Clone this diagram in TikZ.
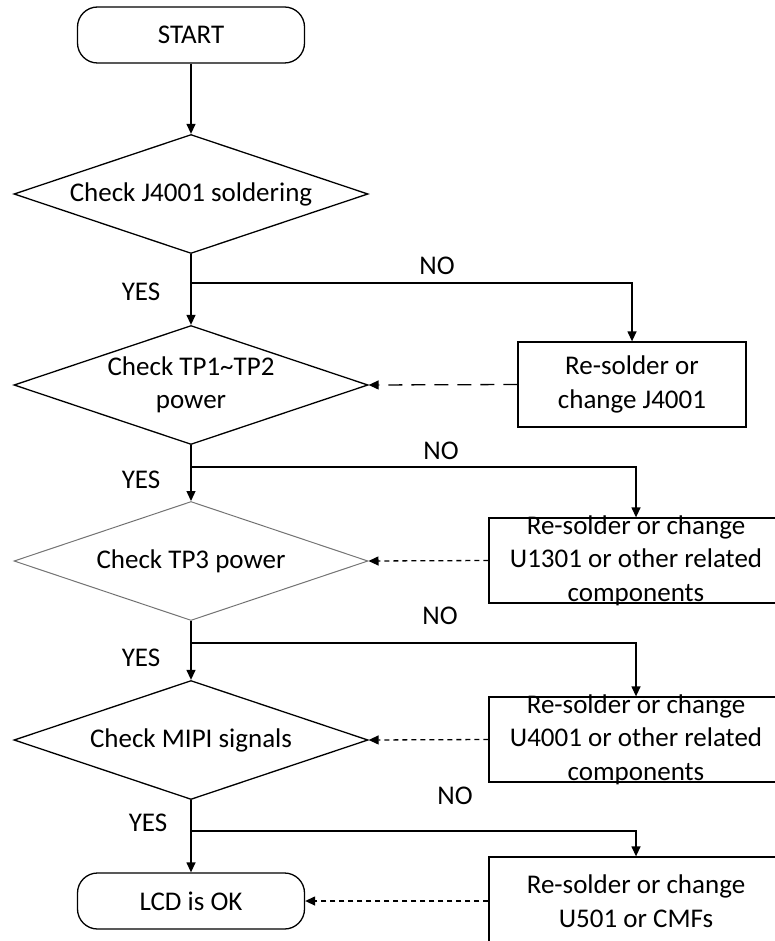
\documentclass[tikz,border=0pt]{standalone}
\usepackage{fontspec}
\setmainfont{Carlito}
\usetikzlibrary{shapes.geometric,arrows.meta}
\begin{document}
\begin{tikzpicture}[x=1pt,y=-1pt,
  line width=1.3pt,
  every node/.style={font=\fontsize{27}{33.5}\selectfont, text=black},
  terminal/.style={draw, rectangle, rounded corners=20pt, minimum width=227pt, minimum height=56pt, inner sep=0pt},
  decision/.style={draw, diamond, minimum width=354pt, minimum height=119pt, inner sep=0pt},
  actionbox/.style={draw, rectangle, inner sep=0pt},
  lbl/.style={align=center, inner sep=0pt},
  flow/.style={-{Triangle[length=10pt,width=9pt]}},
  back/.style={-{Triangle[length=10pt,width=9pt]}, dash pattern=on 5pt off 4pt},
  longback/.style={-{Triangle[length=10pt,width=9pt]}, dash pattern=on 14pt off 9pt},
]
\clip (0,0) rectangle (775,941);

% main column
\node[terminal] (start) at (191,35) {START};
\node[decision] (d1) at (191,194) {};
\node[lbl] (d1t) at (d1) {Check J4001 soldering};
\node[decision] (d2) at (191,385) {};
\node[lbl] (d2t) at (d2) {Check TP1\textasciitilde TP2\\power};
\node[decision, draw=black!55, line width=1pt] (d3) at (191,561) {};
\node[lbl] (d3t) at (d3) {Check TP3 power};
\node[decision] (d4) at (191,740) {};
\node[lbl] (d4t) at (d4) {Check MIPI signals};
\node[terminal] (lcd) at (191,901) {LCD is OK};

% repair boxes
\node[actionbox, minimum width=228pt, minimum height=85pt] (bx1) at (632,384.5) {};
\node[lbl] (bx1t) at (bx1) {Re-solder or\\change J4001};
\node[actionbox, minimum width=294pt, minimum height=85pt] (bx2) at (636,560.5) {};
\node[lbl] (bx2t) at (bx2) {Re-solder or change\\U1301 or other related\\components};
\node[actionbox, minimum width=294pt, minimum height=85pt] (bx3) at (636,739.5) {};
\node[lbl] (bx3t) at (bx3) {Re-solder or change\\U4001 or other related\\components};
\node[actionbox, minimum width=294pt, minimum height=88pt] (bx4) at (636,901) {};
\node[lbl] (bx4t) at (bx4) {Re-solder or change\\U501 or CMFs};

% branch points
\coordinate (b1) at (191,283);
\coordinate (b2) at (191,467);
\coordinate (b3) at (191,643);
\coordinate (b4) at (191,831);

% YES path
\draw[flow] (start.south) -- (d1.north);
\draw[flow] (d1.south) -- (d2.north);
\draw[flow] (d2.south) -- (d3.north);
\draw[flow] (d3.south) -- (d4.north);
\draw[flow] (d4.south) -- (lcd.north);

% NO path
\draw[flow] (b1) -| (bx1.north);
\draw[flow] (b2) -| (bx2.north);
\draw[flow] (b3) -| (bx3.north);
\draw[flow] (b4) -| (bx4.north);

% return paths
\draw[longback] (bx1.west) -- (d2.east);
\draw[back] (bx2.west) -- (d3.east);
\draw[back] (bx3.west) -- (d4.east);
\draw[back] (bx4.west) -- (lcd.east);

% labels
\node (yes1) at (141,292) {YES};
\node (yes2) at (141,480) {YES};
\node (yes3) at (141,658) {YES};
\node (yes4) at (148,823) {YES};
\node (no1) at (437,266) {NO};
\node (no2) at (441,451) {NO};
\node (no3) at (440,616) {NO};
\node (no4) at (455,796) {NO};
\end{tikzpicture}
\end{document}
